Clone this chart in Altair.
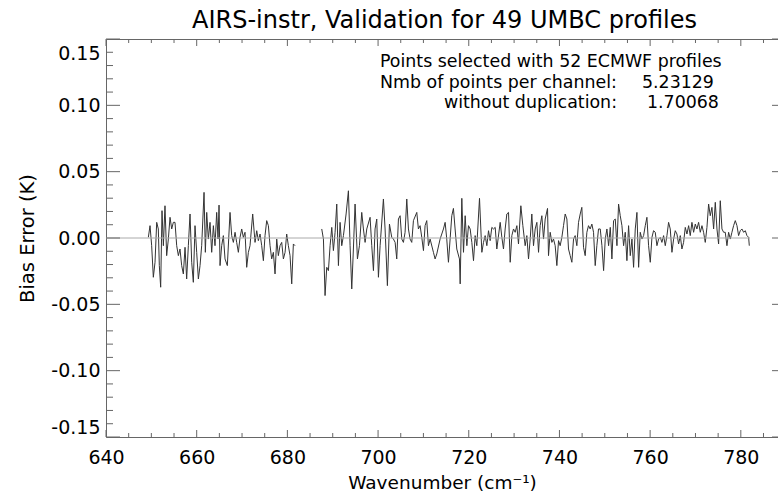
import altair as alt
import pandas as pd

FONT = "DejaVu Sans"
AX = "#666666"

TITLE = "AIRS-instr, Validation for 49 UMBC profiles"
X_TITLE = "Wavenumber (cm\u207b\u00b9)"
Y_TITLE = "Bias Error (K)"
NOTE_LINES = ["Points selected with 52 ECMWF profiles",
              "Nmb of points per channel:",
              "without duplication:"]
NOTE_VALUES = ["5.23129", "1.70068"]

# segment 1 (before the gap)
wn_a = [649.34, 649.71, 650.07, 650.44, 650.81, 651.18, 651.54, 651.76, 652.06, 652.35,
        652.65, 653.01, 653.38, 653.75, 654.12, 654.49, 654.85, 655.22, 655.59, 655.96,
        656.32, 656.69, 657.06, 657.43, 657.79, 658.16, 658.53, 658.90, 659.26, 659.63,
        660.00, 660.37, 660.74, 661.10, 661.62, 661.91, 662.21, 662.57, 662.94, 663.31,
        663.68, 664.04, 664.41, 664.71, 664.93, 665.15, 665.51, 665.88, 666.25, 666.76,
        667.35, 667.72, 668.09, 668.46, 668.82, 669.19, 669.56, 669.93, 670.29, 670.66,
        671.03, 671.40, 671.76, 672.35, 672.87, 673.24, 673.60, 673.97, 674.34, 674.71,
        675.07, 675.44, 675.81, 676.18, 676.54, 676.91, 677.28, 677.65, 678.01, 678.38,
        678.75, 679.12, 679.49, 679.85, 680.22, 680.59, 680.96, 681.32, 681.69]
bias_a = [0.0005, 0.0093, -0.0058, -0.0296, -0.0183, 0.0118, 0.0068, -0.0208, -0.0371, 0.0206,
          -0.0058, 0.0243, -0.0133, -0.0008, 0.0156, 0.0068, 0.0118, 0.0118, -0.0058, -0.0133,
          -0.0083, -0.0208, -0.0271, -0.0070, -0.0309, -0.0058, 0.0181, -0.0183, -0.0334, 0.0093,
          -0.0108, -0.0309, -0.0208, -0.0058, 0.0344, -0.0108, 0.0193, -0.0008, 0.0118, -0.0108,
          0.0093, -0.0058, 0.0193, -0.0008, 0.0248, -0.0208, -0.0058, 0.0018, -0.0158, -0.0208,
          0.0193, 0.0018, -0.0033, 0.0043, -0.0033, -0.0108, 0.0005, 0.0068, 0.0005, 0.0043,
          -0.0221, -0.0108, -0.0058, 0.0181, -0.0033, 0.0055, -0.0020, 0.0030, -0.0058, -0.0171,
          0.0018, 0.0131, 0.0093, -0.0058, -0.0158, -0.0108, -0.0271, -0.0008, -0.0133, -0.0058,
          -0.0033, -0.0158, -0.0108, 0.0030, -0.0058, -0.0133, -0.0346, -0.0045, -0.0058]

# segment 2 (after the gap)
wn_b = [687.58, 687.95, 688.31, 688.68, 689.05, 689.42, 689.79, 690.15, 690.52, 690.89,
        691.26, 691.62, 691.99, 692.36, 692.95, 693.46, 693.83, 694.20, 694.56, 694.93,
        695.45, 695.89, 696.40, 696.77, 697.14, 697.51, 698.24, 698.61, 698.98, 699.34,
        699.71, 700.08, 700.45, 701.18, 701.55, 702.06, 702.51, 703.02, 703.39, 703.76,
        704.12, 704.49, 704.86, 705.23, 705.59, 705.96, 706.33, 706.70, 707.06, 707.43,
        707.80, 708.54, 708.90, 709.27, 709.64, 710.01, 710.37, 710.74, 711.11, 711.48,
        712.21, 712.58, 712.95, 713.68, 714.42, 714.79, 715.15, 715.52, 716.26, 716.62,
        716.99, 717.36, 717.95,
        718.11, 718.47, 718.84, 719.21, 719.58, 719.94, 720.31, 720.68, 721.05, 721.41,
        721.78, 722.37, 722.89, 723.25, 723.62, 723.99, 724.36, 724.72, 725.09, 725.46,
        725.83, 726.19, 726.93, 727.30, 727.66, 728.03, 728.40, 728.77, 729.14, 729.50,
        729.87, 730.24, 730.61, 730.97, 731.49, 731.93, 732.44, 732.81, 733.18, 733.55,
        733.91, 734.28, 734.65, 735.02, 735.39, 735.75, 736.12, 736.49, 736.86, 737.37,
        737.59, 737.96, 738.33, 738.69, 739.06, 739.43, 739.80, 740.16, 740.53, 740.90,
        741.27, 741.64, 742.00, 742.37, 742.74, 743.11, 743.47, 743.84, 744.21, 744.58,
        744.94, 745.31, 745.68, 746.05, 746.41, 746.78, 747.15, 747.52, 747.89, 748.25,
        748.62,
        749.00, 749.37, 749.74, 750.10, 750.47, 750.84, 751.21, 751.57, 751.94, 752.31,
        752.68, 753.04, 753.41, 753.78, 754.15, 754.51, 754.88, 755.25, 755.62, 755.99,
        756.35, 756.72, 757.09, 757.46, 757.82, 758.19, 758.56, 758.93, 759.29, 759.66,
        760.03, 760.40, 760.76, 761.13, 761.50, 761.87, 762.24, 762.60, 762.97, 763.34,
        763.71, 764.07, 764.44, 764.81, 765.18, 765.54, 765.91, 766.28, 766.65, 767.01,
        767.38, 767.75, 768.12, 768.49, 768.85, 769.22, 769.59, 769.96, 770.32, 770.69,
        771.06, 771.43, 771.79, 772.16, 772.53, 772.90, 773.26, 773.63, 774.00, 774.37,
        774.74, 775.10, 775.47, 775.84, 776.21, 776.57, 776.94, 777.31, 777.68, 778.04,
        778.41, 778.78, 779.15, 779.51, 779.88, 780.25, 780.62, 780.99, 781.35, 781.72,
        781.87]
bias_b = [0.0068, -0.0008, -0.0434, -0.0221, -0.0246, -0.0058, 0.0080, -0.0095, 0.0043, 0.0256,
          -0.0208, 0.0118, -0.0058, 0.0018, 0.0181, 0.0356, -0.0058, -0.0384, -0.0083, 0.0256,
          -0.0158, -0.0058, 0.0193, 0.0068, -0.0033, 0.0068, 0.0156, -0.0058, -0.0246, 0.0068,
          0.0143, -0.0296, -0.0058, 0.0294, 0.0068, -0.0359, 0.0105, 0.0005, -0.0008, -0.0033,
          -0.0158, 0.0143, 0.0168, -0.0008, -0.0033, 0.0043, 0.0294, 0.0068, -0.0008, -0.0033,
          0.0131, 0.0193, 0.0068, 0.0093, 0.0005, -0.0095, 0.0093, 0.0131, -0.0058, -0.0008,
          -0.0108, -0.0158, -0.0120, -0.0008, 0.0068, 0.0118, -0.0008, -0.0183, 0.0168, 0.0223,
          0.0068, -0.0083, -0.0158,
          -0.0346, 0.0299, -0.0108, 0.0168, -0.0058, 0.0093, 0.0068, -0.0033, -0.0171, 0.0018,
          -0.0058, 0.0299, -0.0108, -0.0033, 0.0018, -0.0058, 0.0055, -0.0020, 0.0080, 0.0068,
          0.0080, -0.0083, 0.0118, 0.0005, -0.0083, 0.0068, 0.0181, 0.0193, -0.0183, 0.0018,
          0.0068, 0.0043, 0.0093, -0.0045, 0.0243, 0.0093, -0.0058, 0.0018, -0.0158, -0.0008,
          0.0181, -0.0058, 0.0068, 0.0118, -0.0108, 0.0093, 0.0168, -0.0008, 0.0143, 0.0223,
          -0.0133, 0.0043, -0.0033, -0.0008, -0.0058, -0.0208, -0.0020, -0.0058, 0.0005, 0.0093,
          0.0181, 0.0143, -0.0083, -0.0133, -0.0183, -0.0008, 0.0018, -0.0058, 0.0118, 0.0181,
          0.0231, -0.0070, -0.0133, 0.0043, 0.0093, 0.0068, 0.0105, 0.0043, -0.0208, -0.0058,
          0.0068,
          0.0068, -0.0058, -0.0246, -0.0008, 0.0068, -0.0058, 0.0080, -0.0158, 0.0131, 0.0143,
          -0.0058, 0.0256, 0.0168, 0.0093, -0.0058, 0.0043, -0.0171, 0.0093, -0.0133, -0.0008,
          -0.0221, 0.0068, 0.0193, -0.0221, 0.0043, -0.0008, 0.0018, 0.0093, 0.0156, -0.0058,
          -0.0183, 0.0005, 0.0055, 0.0043, -0.0058, -0.0008, 0.0005, -0.0033, 0.0018, -0.0058,
          0.0018, 0.0118, 0.0068, -0.0108, -0.0008, 0.0055, 0.0030, -0.0045, 0.0018, -0.0083,
          -0.0033, 0.0080, 0.0030, 0.0093, 0.0018, 0.0118, 0.0043, 0.0105, 0.0068, 0.0118,
          0.0043, 0.0093, 0.0043, -0.0033, 0.0080, 0.0256, 0.0168, 0.0231, 0.0068, 0.0269,
          0.0068, -0.0045, 0.0281, 0.0068, 0.0043, 0.0043, -0.0058, 0.0043, -0.0008, 0.0043,
          0.0093, 0.0131, 0.0093, 0.0018, 0.0055, 0.0068, 0.0043, 0.0055, 0.0018, 0.0005,
          -0.0058]

x_labels = [640, 660, 680, 700, 720, 740, 760, 780]
x_minor = [645, 650, 655, 665, 670, 675, 685, 690, 695, 705, 710, 715,
           725, 730, 735, 745, 750, 755, 765, 770, 775, 785]
y_labels = [-0.15, -0.10, -0.05, 0.0, 0.05, 0.10, 0.15]
y_minor = [-0.14, -0.13, -0.12, -0.11, -0.09, -0.08, -0.07, -0.06,
           -0.04, -0.03, -0.02, -0.01, 0.01, 0.02, 0.03, 0.04,
           0.06, 0.07, 0.08, 0.09, 0.11, 0.12, 0.13, 0.14]
zero_span = [640, 782]

W, H = 672, 398

df = pd.DataFrame({
    "wn": wn_a + wn_b,
    "bias": bias_a + bias_b,
    "seg": ["a"] * len(wn_a) + ["b"] * len(wn_b),
})

xs = alt.Scale(domain=[640, 788.2], nice=False, zero=False)
ys = alt.Scale(domain=[-0.15, 0.15], nice=False, zero=False)

x_axis = alt.Axis(orient="bottom", values=x_labels, format="d", title=X_TITLE,
                  ticks=False, domain=False, grid=False, labelFlush=False,
                  labelOverlap=False, labelPadding=26, labelBaseline="alphabetic",
                  labelFont=FONT, labelFontSize=19, labelColor="black",
                  titleFont=FONT, titleFontSize=18.5, titleFontWeight="normal",
                  titleColor="black", titlePadding=6)
y_axis = alt.Axis(orient="left", values=y_labels, format=".2f", title=Y_TITLE,
                  ticks=False, domain=False, grid=False, labelFlush=False,
                  labelOverlap=False, labelPadding=6, labelFont=FONT, labelFontSize=19,
                  labelColor="black",
                  labelExpr="replace(datum.label, '\u2212', '-')",
                  labelOffset={"condition": {"test": "datum.value > 0.14", "value": 14},
                               "value": 0},
                  labelBaseline={"condition": {"test": "datum.value < -0.14", "value": "bottom"},
                                 "value": "middle"},
                  titleFont=FONT, titleFontSize=19.5, titleFontWeight="normal",
                  titleColor="black", titlePadding=13)


def X(field):
    return alt.X(field, scale=xs, axis=x_axis)


def Y(field):
    return alt.Y(field, scale=ys, axis=y_axis)


line = alt.Chart(df).mark_line(color="#333333", strokeWidth=1).encode(
    x=X("wn:Q"), y=Y("bias:Q"), detail="seg:N")

zero = alt.Chart(pd.DataFrame({"a": [zero_span[0]], "b": [zero_span[1]], "z": [0.0]})).mark_rule(
    color="#aaaaaa", strokeWidth=1).encode(x=X("a:Q"), x2="b:Q", y=Y("z:Q"))


def xticks(vals, top, length):
    y0 = alt.value(0) if top else alt.value(H)
    y1 = alt.value(length) if top else alt.value(H - length)
    return alt.Chart(pd.DataFrame({"t": vals})).mark_rule(color=AX, strokeWidth=1).encode(
        x=X("t:Q"), y=y0, y2=y1)


def yticks(vals, right, length):
    x0 = alt.value(W) if right else alt.value(0)
    x1 = alt.value(W - length) if right else alt.value(length)
    return alt.Chart(pd.DataFrame({"t": vals})).mark_rule(color=AX, strokeWidth=1).encode(
        y=Y("t:Q"), x=x0, x2=x1)


def note(text, x, y, align="left", size=17.4):
    return alt.Chart(pd.DataFrame({"k": [0]})).mark_text(
        text=text, font=FONT, fontSize=size, color="black", align=align,
        baseline="alphabetic").encode(x=alt.value(x), y=alt.value(y))


layers = [
    line, zero,
    xticks(x_labels, False, 7), xticks(x_minor, False, 4),
    xticks(x_labels, True, 7), xticks(x_minor, True, 4),
    yticks(y_labels, False, 14), yticks(y_minor, False, 7),
    yticks(y_labels, True, 6),
    note(TITLE, 338.5, -11, "center", 24),
    note(NOTE_LINES[0], 274, 28),
    note(NOTE_LINES[1], 274, 48.5),
    note(NOTE_VALUES[0], 536, 48.5),
    note(NOTE_LINES[2], 511, 69, "right"),
    note(NOTE_VALUES[1], 541, 69),
]

chart = alt.layer(*layers).properties(
    width=W, height=H,
    autosize=alt.AutoSizeParams(type="none"),
    padding={"left": 106, "top": 39, "right": 0, "bottom": 56},
    background="white",
).configure_view(stroke=AX, strokeWidth=1)

chart.save("out.html", embed_options={"renderer": "svg", "actions": False})
